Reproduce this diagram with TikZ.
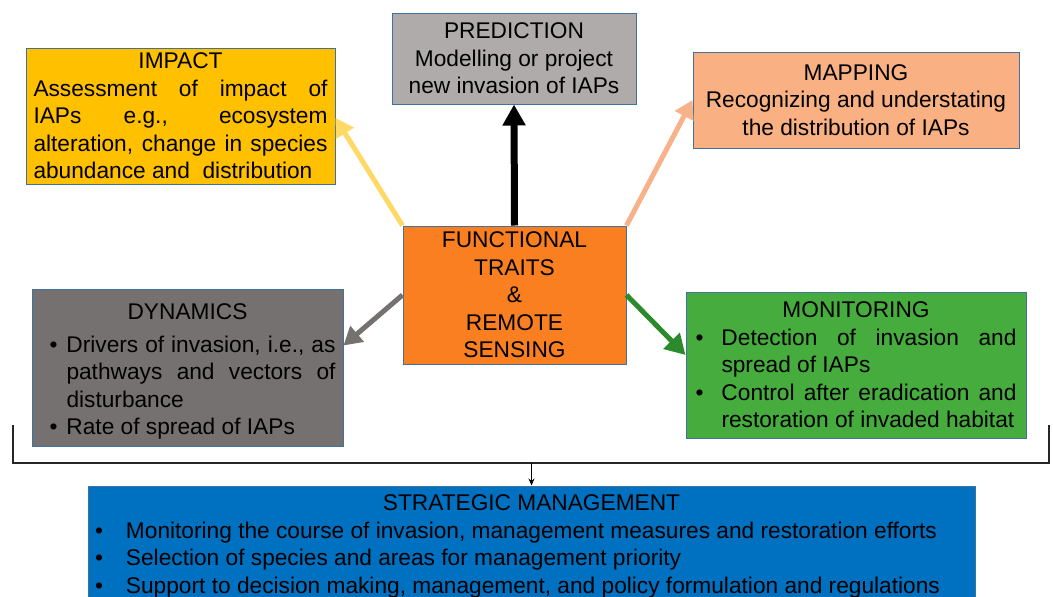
\documentclass[tikz,border=0pt]{standalone}
\usepackage{fontspec}
\setmainfont{Liberation Sans}
\usetikzlibrary{arrows.meta,calc}
\definecolor{bord}{HTML}{41719C}
\definecolor{impc}{HTML}{FFC000}
\definecolor{predc}{HTML}{AFABAB}
\definecolor{mapc}{HTML}{F9B183}
\definecolor{ftc}{HTML}{FA7F21}
\definecolor{dync}{HTML}{767171}
\definecolor{monc}{HTML}{45AC3D}
\definecolor{stratc}{HTML}{0070C0}
\definecolor{impa}{HTML}{FFD966}
\definecolor{mapa}{HTML}{F8B28A}
\definecolor{dyna}{HTML}{767171}
\definecolor{mona}{HTML}{2B8A2B}
\newcommand\myfs{\fontsize{22.7pt}{27.5pt}\selectfont}
\begin{document}
\begin{tikzpicture}[x=1pt,y=-1pt,
  box/.style={draw=bord, line width=1pt, inner sep=0pt, align=center, font=\myfs, text=black},
  arr/.style={line width=5pt, -{Triangle[length=18pt,width=20pt]}}]
\useasboundingbox (0,0) rectangle (1053,597);
\fill[white] (0,0) rectangle (1053,597);

% boxes
\node[box, fill=impc, minimum width=309pt, minimum height=136pt] (imp) at (180.5,116)
 {IMPACT\\
  \makebox[294pt][s]{Assessment of impact of}\\
  \makebox[294pt][s]{IAPs e.g., ecosystem}\\
  \makebox[294pt][s]{alteration, change in species}\\
  \makebox[294pt][l]{abundance and\ \ distribution}};

\node[box, fill=predc, minimum width=244pt, minimum height=91pt] (pred) at (514,58.5)
 {PREDICTION\\Modelling or project\\new invasion of IAPs};

\node[box, fill=mapc, minimum width=326pt, minimum height=96pt] (map) at (856,100)
 {MAPPING\\Recognizing and understating\\the distribution of IAPs};

\node[box, fill=ftc, minimum width=223pt, minimum height=138pt] (ft) at (514.5,295)
 {FUNCTIONAL\\TRAITS\\\&\\REMOTE\\SENSING};

\node[box, fill=dync, minimum width=311pt, minimum height=157pt] (dyn) at (187.5,367.5)
 {\rule{0pt}{24.5pt}DYNAMICS\\[5pt]
  \makebox[296pt][r]{\makebox[17pt][l]{\textbullet}\makebox[269pt][s]{Drivers of invasion, i.e., as}}\\
  \makebox[296pt][r]{\hspace{17pt}\makebox[269pt][s]{pathways and vectors of}}\\
  \makebox[296pt][r]{\hspace{17pt}\makebox[269pt][l]{disturbance}}\\
  \makebox[296pt][r]{\makebox[17pt][l]{\textbullet}\makebox[269pt][l]{Rate of spread of IAPs}}};

\node[box, fill=monc, minimum width=340pt, minimum height=146pt] (mon) at (856,365)
 {MONITORING\\
  \makebox[26pt][l]{\textbullet}\makebox[295pt][s]{Detection of invasion and}\\
  \hspace{26pt}\makebox[295pt][l]{spread of IAPs}\\
  \makebox[26pt][l]{\textbullet}\makebox[295pt][s]{Control after eradication and}\\
  \hspace{26pt}\makebox[295pt][l]{restoration of invaded habitat}};

\node[box, fill=stratc, minimum width=887pt, minimum height=121pt] (strat) at (531.5,546.5)
 {\makebox[873pt][c]{STRATEGIC MANAGEMENT}\\
  \makebox[873pt][l]{\makebox[31pt][l]{\textbullet}Monitoring the course of invasion, management measures and restoration efforts}\\
  \makebox[873pt][l]{\makebox[31pt][l]{\textbullet}Selection of species and areas for management priority}\\
  \makebox[873pt][l]{\makebox[31pt][l]{\textbullet}Support to decision making, management, and policy formulation and regulations}};

% arrows
\draw[arr, impa] (ft.north west) -- ($(imp.east)+(0,2)$);
\draw[line width=7pt, black, -{Triangle[length=21pt,width=22pt]}] (ft.north) -- (pred.south);
\draw[arr, mapa] (ft.north east) -- (map.west);
\draw[arr, dyna] (ft.west) -- ($(dyn.east)+(0,-22)$);
\draw[arr, mona, -{Triangle[length=20pt,width=22pt]}] (ft.east) -- ($(mon.west)+(0,-10)$);

% bracket
\coordinate (bl1) at (13,425);
\coordinate (bl2) at (13,463);
\coordinate (br2) at (1049,463);
\coordinate (br1) at (1049,425);
\coordinate (bm) at (strat.north |- bl2);
\draw[line width=1.3pt, black!85] (bl1) -- (bl2) -- (br2) -- (br1);
\draw[line width=1pt, black, -{Stealth[length=7pt,width=6pt]}] (bm) -- (strat.north);
\end{tikzpicture}
\end{document}
